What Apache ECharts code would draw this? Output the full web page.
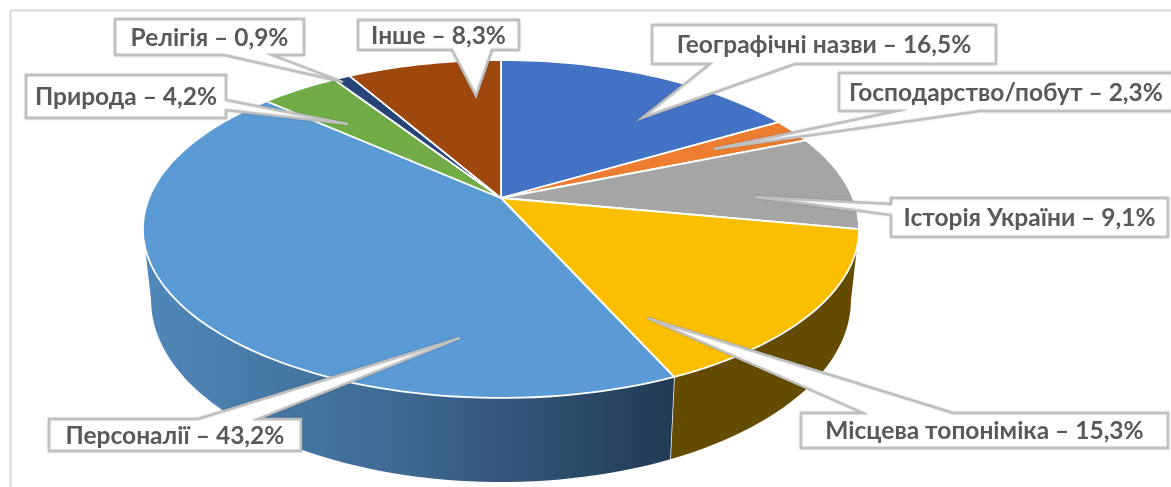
<!DOCTYPE html>
<html>
<head>
<meta charset="utf-8">
<style>
html, body { margin: 0; padding: 0; background: #fff; }
#chart { width: 1171px; height: 487px; }
</style>
<script src="https://cdn.jsdelivr.net/npm/echarts@6/dist/echarts.min.js"></script>
</head>
<body>
<div id="chart"></div>
<script>
const categories = ['Географічні назви', 'Господарство/побут', 'Історія України', 'Місцева топоніміка', 'Персоналії', 'Природа', 'Релігія', 'Інше'];
const values = [16.5, 2.3, 9.1, 15.3, 43.2, 4.2, 0.9, 8.3];
const colors = ['#4472c4', '#ed7d31', '#a5a5a5', '#fbbf00', '#5b9bd5', '#70ad47', '#264478', '#9e480e'];
const wallColors = {
    3: '#644b00',
    4: new echarts.graphic.LinearGradient(0, 0, 1, 0, [
        { offset: 0, color: '#5088bb' },
        { offset: 0.5, color: '#3d6890' },
        { offset: 1, color: '#213a55' }
    ])
};

// box: x,y,w,h  side: edge the pointer leaves from  base: pointer start/end along that edge  tip: pointer end
const callouts = [
    { box: [652, 25, 344, 39], side: 'bottom', base: [710, 795], tip: [642, 118] },
    { box: [839, 73, 334, 38], side: 'bottom', base: [897, 980], tip: [714, 149] },
    { box: [891, 198, 277, 39], side: 'left', base: [204, 215], tip: [755, 197] },
    { box: [801, 413, 367, 35], side: 'top', base: [863, 953], tip: [647, 318] },
    { box: [49, 419, 252, 32], side: 'top', base: [198, 258], tip: [460, 338] },
    { box: [26, 75, 200, 43], side: 'right', base: [100, 110], tip: [348, 124] },
    { box: [115, 19, 189, 36], side: 'bottom', base: [224, 272], tip: [343, 82] },
    { box: [358, 20, 161, 30], side: 'bottom', base: [452, 492], tip: [476, 96] }
];

// pie is drawn on a hidden polar system, then tilted with a perspective transform
const total = values.reduce((a, b) => a + b, 0);
const polarCenter = [501, 198];
const polarRadius = 100;
const tilt = 0.1834;
const topFace = { x0: 501, y0: 198, bx: 352, by: 163.3 };
const bottomFace = { x0: 501, y0: 266.6, bx: 344, by: 175.9 };

let sum = 0;
const slices = values.map((v) => {
    const row = [sum, sum + v];
    sum += v;
    return row;
});

const project = (face, api, cum) => {
    const p = api.coord([1, cum]);
    const nx = (p[0] - polarCenter[0]) / polarRadius;
    const ny = (p[1] - polarCenter[1]) / polarRadius;
    const w = 1 - tilt * ny;
    return [face.x0 + face.bx * nx / w, face.y0 + face.by * ny / w];
};

const arcPoints = (face, api, from, to) => {
    const n = Math.max(2, Math.ceil((to - from) * 2));
    const pts = [];
    for (let i = 0; i <= n; i++) {
        pts.push(project(face, api, from + (to - from) * i / n));
    }
    return pts;
};

// only the front part of the side wall can be seen
const visibleFrom = (Math.PI - Math.acos(tilt)) / (2 * Math.PI) * total;
const visibleTo = total - visibleFrom;

const renderWall = (params, api) => {
    const from = Math.max(api.value(0), visibleFrom);
    const to = Math.min(api.value(1), visibleTo);
    if (to - from < 0.05) {
        return { type: 'group', children: [] };
    }
    const upper = arcPoints(topFace, api, from, to);
    const lower = arcPoints(bottomFace, api, from, to).reverse();
    const children = [{
        type: 'polygon',
        shape: { points: upper.concat(lower) },
        style: { fill: wallColors[params.dataIndex] || colors[params.dataIndex] }
    }];
    if (to < visibleTo) {
        children.push({
            type: 'line',
            shape: { x1: upper[upper.length - 1][0], y1: upper[upper.length - 1][1], x2: lower[0][0], y2: lower[0][1] },
            style: { stroke: '#fff', lineWidth: 1.5 }
        });
    }
    return { type: 'group', children: children };
};

const renderTop = (params, api) => {
    const pts = arcPoints(topFace, api, api.value(0), api.value(1));
    pts.push([topFace.x0, topFace.y0]);
    return {
        type: 'polygon',
        shape: { points: pts },
        style: { fill: colors[params.dataIndex], stroke: '#fff', lineWidth: 1.8, lineJoin: 'round' }
    };
};

const calloutPoints = (c) => {
    const [x, y, w, h] = c.box;
    const [a, b] = c.base;
    const pts = [[x, y]];
    if (c.side === 'top') pts.push([a, y], c.tip, [b, y]);
    pts.push([x + w, y]);
    if (c.side === 'right') pts.push([x + w, a], c.tip, [x + w, b]);
    pts.push([x + w, y + h]);
    if (c.side === 'bottom') pts.push([b, y + h], c.tip, [a, y + h]);
    pts.push([x, y + h]);
    if (c.side === 'left') pts.push([x, b], c.tip, [x, a]);
    return pts;
};

const renderCallout = (params) => {
    const c = callouts[params.dataIndex];
    const text = categories[params.dataIndex] + ' – ' + String(values[params.dataIndex]).replace('.', ',') + '%';
    return {
        type: 'group',
        children: [{
            type: 'polygon',
            shape: { points: calloutPoints(c) },
            style: { fill: '#fff', stroke: '#bfbfbf', lineWidth: 2.4, lineJoin: 'miter', shadowBlur: 2, shadowColor: 'rgba(0,0,0,0.2)' }
        }, {
            type: 'text',
            style: {
                x: c.box[0] + c.box[2] / 2,
                y: c.box[1] + c.box[3] / 2 + 1,
                text: text,
                fill: '#595959',
                font: 'bold 24.5px Lato, "Noto Sans", sans-serif',
                align: 'center',
                verticalAlign: 'middle'
            }
        }]
    };
};

const chart = echarts.init(document.getElementById('chart'));
chart.setOption({
    animation: false,
    backgroundColor: '#fff',
    polar: { center: polarCenter, radius: polarRadius },
    angleAxis: { type: 'value', min: 0, max: total, startAngle: 90, show: false },
    radiusAxis: { type: 'value', min: 0, max: 1, show: false },
    graphic: [{
        type: 'polyline',
        shape: { points: [[10.5, 487], [10.5, 10.5], [1171, 10.5]] },
        style: { fill: null, stroke: '#d9d9d9', lineWidth: 2 }
    }],
    series: [
        { type: 'custom', name: 'side', coordinateSystem: 'polar', z: 2, silent: true, renderItem: renderWall, data: slices },
        { type: 'custom', name: 'top', coordinateSystem: 'polar', z: 3, silent: true, renderItem: renderTop, data: slices },
        { type: 'custom', name: 'labels', coordinateSystem: 'polar', z: 4, silent: true, renderItem: renderCallout, data: slices }
    ]
});
</script>
</body>
</html>
